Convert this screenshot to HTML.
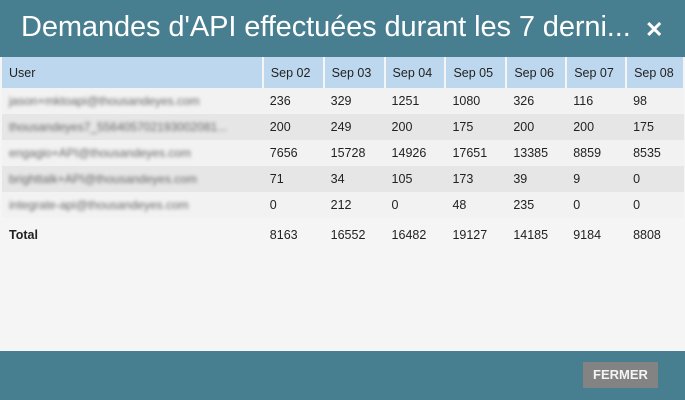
<!DOCTYPE html>
<html><head><style>
*{margin:0;padding:0;box-sizing:border-box}
body{width:685px;height:400px;overflow:hidden;background:#f5f5f5;font-family:"Liberation Sans",sans-serif;position:relative}
.hd{position:absolute;left:0;top:0;width:685px;height:57px;background:#487f90;color:#fff}
.hd .t{position:absolute;left:21px;top:11px;font-size:29px;letter-spacing:-0.1px}
.hd .x{position:absolute;left:645px;top:17px;font-size:22px;font-weight:bold}
table{position:absolute;left:2px;top:57px;border-collapse:collapse;font-size:12.5px;color:#222}
td{height:26px;padding-left:7px;vertical-align:middle}
tr.h td{height:31px;background:#bdd8ee;border-right:2px solid #f5f5f5}
tr.a td{background:#f2f2f2}
tr.b td{background:#e6e6e6}
tr.tot td{height:34px;background:#f5f5f5}
.bl{color:#666;filter:blur(1.8px);font-size:12px}
.ft{position:absolute;left:0;top:351px;width:685px;height:49px;background:#487f90}
.btn{position:absolute;left:583px;top:362px;width:75px;height:26px;background:#838383;color:#f4f4f4;font-size:13px;font-weight:bold;text-align:center;line-height:26px}
</style></head><body>
<div class="hd"><div class="t">Demandes d'API effectuées durant les 7 derni...</div><div class="x">✕</div></div>
<table>
<colgroup><col style="width:261px"><col style="width:61px"><col style="width:61px"><col style="width:61px"><col style="width:61px"><col style="width:60px"><col style="width:60px"><col style="width:58px"></colgroup>
<tr class="h"><td>User</td><td>Sep 02</td><td>Sep 03</td><td>Sep 04</td><td>Sep 05</td><td>Sep 06</td><td>Sep 07</td><td>Sep 08</td></tr>
<tr class="a"><td><span class="bl">jason+mktoapi@thousandeyes.com</span></td><td>236</td><td>329</td><td>1251</td><td>1080</td><td>326</td><td>116</td><td>98</td></tr>
<tr class="b"><td><span class="bl">thousandeyes7_556405702193002081...</span></td><td>200</td><td>249</td><td>200</td><td>175</td><td>200</td><td>200</td><td>175</td></tr>
<tr class="a"><td><span class="bl">engagio+API@thousandeyes.com</span></td><td>7656</td><td>15728</td><td>14926</td><td>17651</td><td>13385</td><td>8859</td><td>8535</td></tr>
<tr class="b"><td><span class="bl">brighttalk+API@thousandeyes.com</span></td><td>71</td><td>34</td><td>105</td><td>173</td><td>39</td><td>9</td><td>0</td></tr>
<tr class="a"><td><span class="bl">integrate-api@thousandeyes.com</span></td><td>0</td><td>212</td><td>0</td><td>48</td><td>235</td><td>0</td><td>0</td></tr>
<tr class="tot"><td><b>Total</b></td><td>8163</td><td>16552</td><td>16482</td><td>19127</td><td>14185</td><td>9184</td><td>8808</td></tr>
</table>
<div class="ft"></div>
<div class="btn">FERMER</div>
</body></html>
